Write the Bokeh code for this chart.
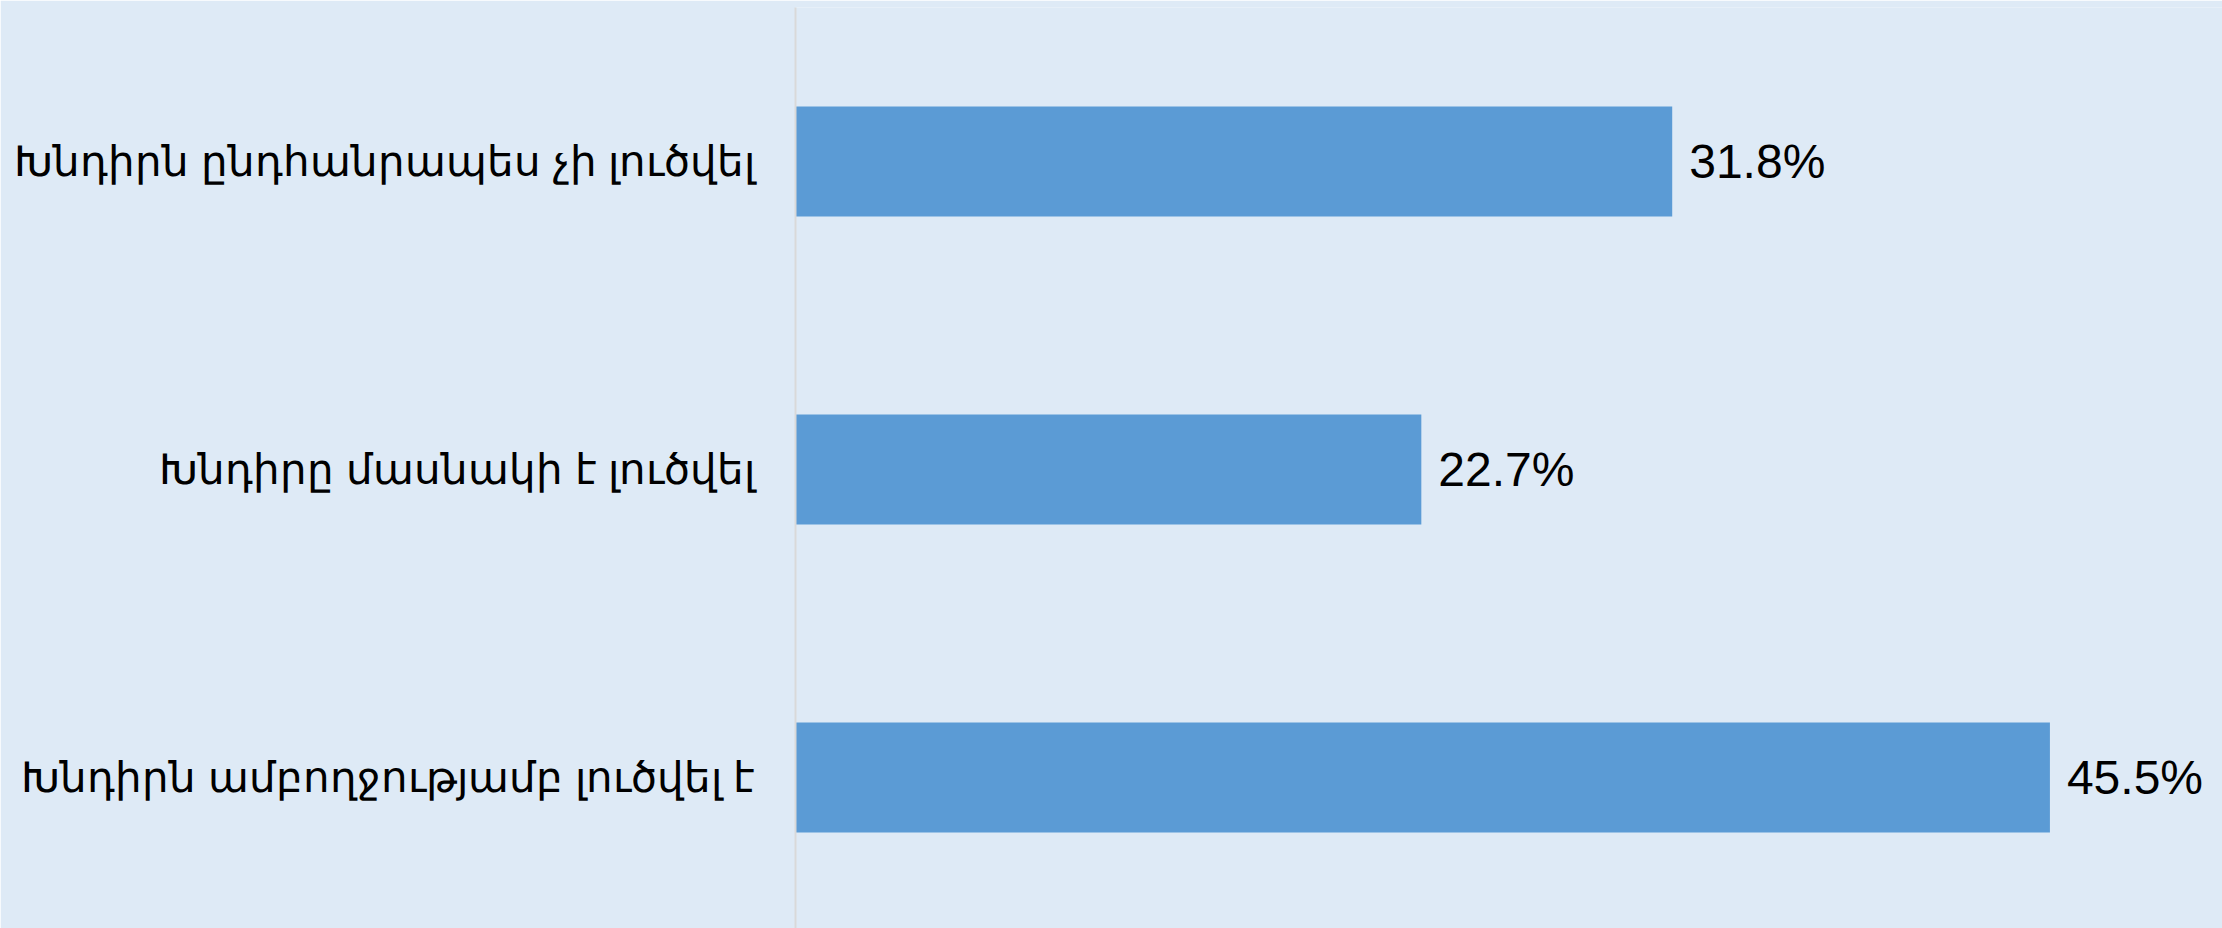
from bokeh.plotting import figure
from bokeh.models import ColumnDataSource, FixedTicker, Range1d
from bokeh.core.properties import value
from bokeh.embed import file_html
from bokeh.resources import INLINE

categories = [
    "Խնդիրն ընդհանրապես չի լուծվել",
    "Խնդիրը մասնակի է լուծվել",
    "Խնդիրն ամբողջությամբ լուծվել է",
]
values = [31.8, 22.7, 45.5]
value_labels = ["31.8%", "22.7%", "45.5%"]

n = len(categories)
ypos = [n - 1 - i for i in range(n)]

BG = "#DEEAF6"
BAR = "#5B9BD5"

src = ColumnDataSource(dict(y=ypos, v=values, lab=value_labels, cat=categories))

p = figure(
    width=2222, height=928,
    output_backend="svg", toolbar_location=None,
    x_range=Range1d(0, 51.76), y_range=Range1d(-0.490, 2.500),
    min_border_left=795, min_border_right=0, min_border_top=7, min_border_bottom=0,
    background_fill_color=BG, border_fill_color=BG, outline_line_color=None,
)

p.hbar(y="y", right="v", left=0, height=0.357, source=src,
       fill_color=BAR, line_color=None)

p.text(x="v", y="y", text="lab", source=src, x_offset=17,
       text_baseline="middle", text_align="left",
       text_font=value("Liberation Sans"), text_font_size="48px",
       text_color="black")

p.xaxis.visible = False
p.xgrid.grid_line_color = None
p.ygrid.grid_line_color = None

ya = p.yaxis[0]
ya.ticker = FixedTicker(ticks=ypos)
ya.major_label_overrides = {y: c for y, c in zip(ypos, categories)}
ya.major_tick_line_color = None
ya.minor_tick_line_color = None
ya.major_tick_out = 0
ya.major_tick_in = 0
ya.minor_tick_out = 0
ya.major_label_standoff = 40
ya.axis_line_color = "#D9D9D9"
ya.axis_line_width = 2
ya.major_label_text_font = "Liberation Sans"
ya.major_label_text_font_size = "42px"
ya.major_label_text_color = "black"

open("out.html", "w").write(file_html(p, INLINE))
